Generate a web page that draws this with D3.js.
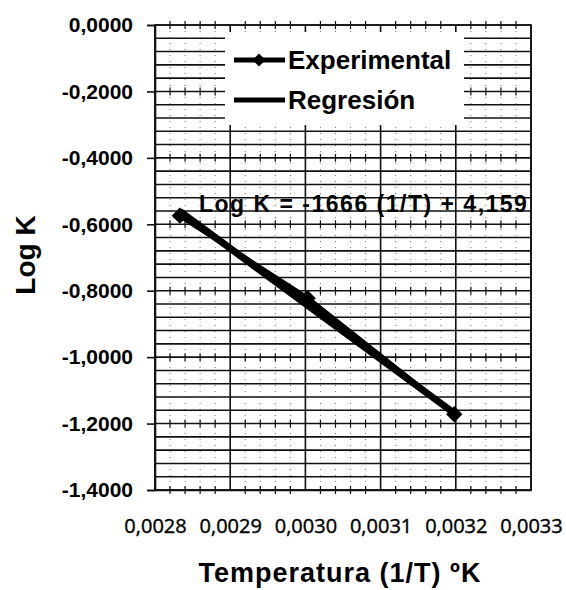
<!DOCTYPE html>
<html>
<head>
<meta charset="utf-8">
<script src="https://cdn.jsdelivr.net/npm/d3@7"></script>
<style>
  html, body { margin: 0; padding: 0; background: #fff; }
  text { font-family: "Liberation Sans", Arial, sans-serif; }
</style>
</head>
<body>
<svg id="chart" width="566" height="590"></svg>
<script>
// Experimental points: inverse temperature (1/K) vs log K
const invT = [0.002833, 0.003003, 0.003198];
const logK = [-0.574, -0.823, -1.172];

// Fitted line: Log K = slope * (1/T) + intercept
const slope = -1666;
const intercept = 4.159;

// Axis ticks and their labels
const xTicks = [0.0028, 0.0029, 0.0030, 0.0031, 0.0032, 0.0033];
const xTickLabels = ["0,0028", "0,0029", "0,0030", "0,0031", "0,0032", "0,0033"];
const yTicks = [0, -0.2, -0.4, -0.6, -0.8, -1.0, -1.2, -1.4];
const yTickLabels = ["0,0000", "-0,2000", "-0,4000", "-0,6000", "-0,8000", "-1,0000", "-1,2000", "-1,4000"];

const seriesNames = ["Experimental", "Regresión"];
const equationLabel = "Log K = -1666 (1/T) + 4,159";
const xTitle = "Temperatura (1/T) ºK";
const yTitle = "Log K";

const W = 566, H = 590;
const m = { left: 155, right: 35, top: 25, bottom: 100 };
const svg = d3.select("#chart");

const x = d3.scaleLinear().domain([0.0028, 0.0033]).range([m.left, W - m.right]);
const y = d3.scaleLinear().domain([-1.4, 0]).range([H - m.bottom, m.top]);

const grid = svg.append("g");

// minor vertical dotted lines every 0.00002
const minorX = d3.range(0, 26).map(i => 0.0028 + i * 0.00002)
  .filter((v, i) => i % 5 !== 0);
grid.selectAll(".vminor").data(minorX).join("line")
  .attr("x1", d => x(d)).attr("x2", d => x(d))
  .attr("y1", y(0)).attr("y2", y(-1.4))
  .attr("stroke", "#777").attr("stroke-width", 1)
  .attr("stroke-dasharray", "1,5");

// horizontal lines every 0.04
const hLines = d3.range(0, 36).map(i => -i * 0.04);
grid.selectAll(".h").data(hLines).join("line")
  .attr("x1", x(0.0028)).attr("x2", x(0.0033))
  .attr("y1", d => y(d)).attr("y2", d => y(d))
  .attr("stroke", "#111").attr("stroke-width", 1.6);

// vertical major lines
grid.selectAll(".vmajor").data(xTicks).join("line")
  .attr("x1", d => x(d)).attr("x2", d => x(d))
  .attr("y1", y(0)).attr("y2", y(-1.4))
  .attr("stroke", "#111").attr("stroke-width", 1.6);

// small cross ticks along the major horizontal lines
const crosses = [];
yTicks.forEach(v => minorX.forEach(u => crosses.push([u, v])));
grid.selectAll(".cross").data(crosses).join("line")
  .attr("x1", d => x(d[0])).attr("x2", d => x(d[0]))
  .attr("y1", d => y(d[1]) - 4).attr("y2", d => y(d[1]) + 4)
  .attr("stroke", "#111").attr("stroke-width", 1.2);

// y axis with outward ticks
const yAxis = svg.append("g")
  .attr("transform", `translate(${m.left},0)`)
  .call(d3.axisLeft(y).tickValues(yTicks).tickSize(8).tickPadding(14)
    .tickFormat((d, i) => yTickLabels[i]));
yAxis.select(".domain").attr("stroke", "#111").attr("stroke-width", 1.6);
yAxis.selectAll(".tick line").attr("stroke", "#111").attr("stroke-width", 1.6);
yAxis.selectAll(".tick text")
  .attr("font-size", 21).attr("font-weight", "bold").attr("fill", "#000")
  .style("font-family", "'Liberation Sans', Arial, sans-serif");

// x axis labels (sitting well below the plot)
const xAxis = svg.append("g")
  .attr("transform", `translate(0,${y(-1.4)})`)
  .call(d3.axisBottom(x).tickValues(xTicks).tickSize(0).tickPadding(29)
    .tickFormat((d, i) => xTickLabels[i]));
xAxis.select(".domain").attr("stroke", "#111").attr("stroke-width", 1.6);
xAxis.selectAll(".tick text")
  .attr("font-size", 20).attr("fill", "#000")
  .attr("stroke", "#000").attr("stroke-width", 0.4)
  .style("font-family", "'Open Sans', 'Liberation Sans', sans-serif");

// plot frame
svg.append("rect")
  .attr("x", x(0.0028)).attr("y", y(0))
  .attr("width", x(0.0033) - x(0.0028)).attr("height", y(-1.4) - y(0))
  .attr("fill", "none").attr("stroke", "#111").attr("stroke-width", 1.6);

// regression line across the measured range
const xr = d3.extent(invT);
const regPts = xr.map(t => [t, slope * t + intercept]);
svg.append("path")
  .datum(regPts)
  .attr("d", d3.line().x(d => x(d[0])).y(d => y(d[1])))
  .attr("fill", "none").attr("stroke", "#000").attr("stroke-width", 7);

// experimental series
const expPts = invT.map((t, i) => [t, logK[i]]);
svg.append("path")
  .datum(expPts)
  .attr("d", d3.line().x(d => x(d[0])).y(d => y(d[1])))
  .attr("fill", "none").attr("stroke", "#000").attr("stroke-width", 5);
svg.selectAll(".pt").data(expPts).join("path")
  .attr("transform", d => `translate(${x(d[0])},${y(d[1])})`)
  .attr("d", d3.symbol(d3.symbolDiamond2, 170))
  .attr("fill", "#000");

// equation label
svg.append("text")
  .attr("x", 199).attr("y", 212)
  .attr("font-size", 23).attr("font-weight", "bold").attr("fill", "#000")
  .attr("letter-spacing", 1.5)
  .text(equationLabel);

// legend
const lg = svg.append("g");
lg.append("rect").attr("x", 225).attr("y", 32).attr("width", 239).attr("height", 93)
  .attr("fill", "#fff");
const rows = [{ y: 60, marker: true }, { y: 100, marker: false }];
rows.forEach((r, i) => {
  lg.append("line").attr("x1", 234).attr("x2", 285).attr("y1", r.y).attr("y2", r.y)
    .attr("stroke", "#000").attr("stroke-width", 5);
  if (r.marker) {
    lg.append("path").attr("transform", `translate(259,${r.y})`)
      .attr("d", d3.symbol(d3.symbolDiamond2, 110)).attr("fill", "#000");
  }
  lg.append("text").attr("x", 288).attr("y", r.y + 9)
    .attr("font-size", 26).attr("font-weight", "bold").attr("fill", "#000")
    .text(seriesNames[i]);
});

// axis titles
svg.append("text")
  .attr("x", 340).attr("y", 582).attr("text-anchor", "middle")
  .attr("font-size", 27).attr("font-weight", "bold").attr("fill", "#000")
  .attr("letter-spacing", 1)
  .text(xTitle);
svg.append("text")
  .attr("transform", "translate(35,255) rotate(-90)").attr("text-anchor", "middle")
  .attr("font-size", 28).attr("font-weight", "bold").attr("fill", "#000")
  .text(yTitle);
</script>
</body>
</html>
